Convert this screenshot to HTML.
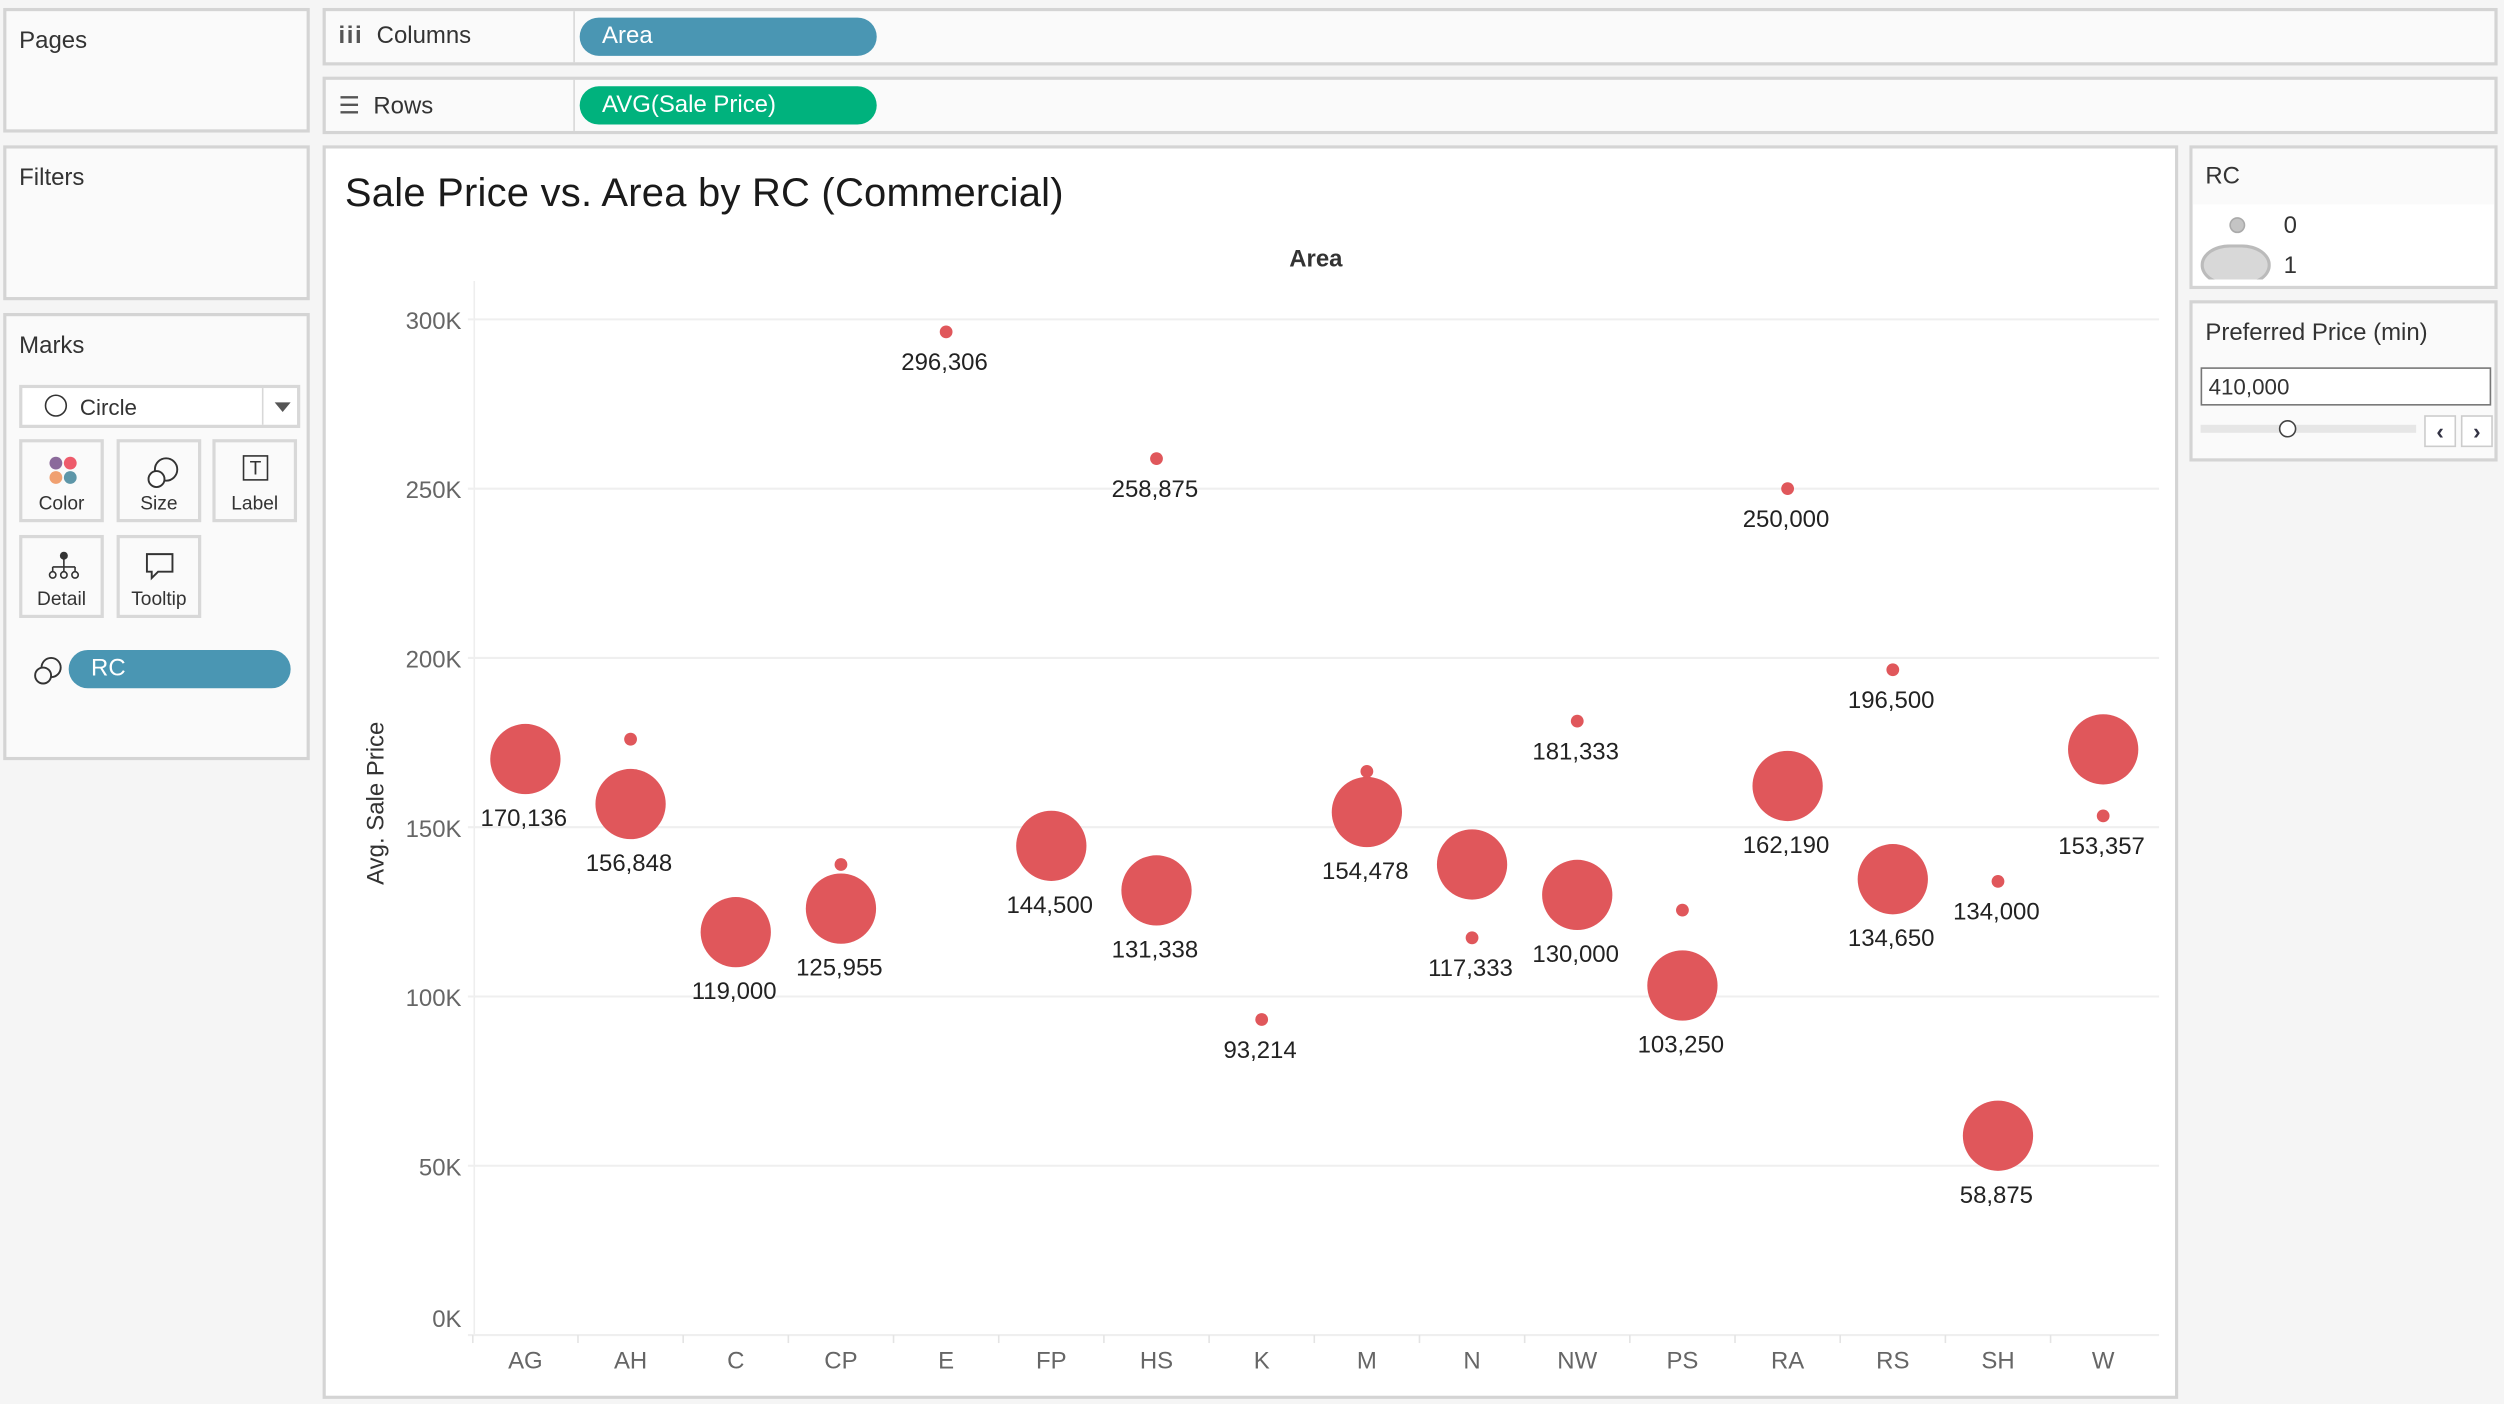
<!DOCTYPE html>
<html><head><meta charset="utf-8"><style>
html,body{margin:0;padding:0;width:2504px;height:1404px;overflow:hidden;background:#f5f5f5;font-family:"Liberation Sans",sans-serif;}
#root{position:absolute;left:0;top:0;width:1568px;height:879px;transform:scale(1.59694);transform-origin:0 0;}
.panel{position:absolute;background:#fafafa;border:2px solid #d4d4d4;box-sizing:border-box;}
.ttl{position:absolute;left:8px;font-size:15px;color:#333;}
.pill{position:absolute;border-radius:12px;color:#fff;font-size:15px;line-height:24px;padding-left:14px;box-sizing:border-box;}
.btn{position:absolute;width:53px;height:52px;border:2px solid #d8d8d8;box-sizing:border-box;background:#fafafa;font-size:12px;color:#333;text-align:center;}
.btn span{position:absolute;left:0;right:0;bottom:3px;}
</style></head><body>
<div id="root">
<div class="panel" style="left:2px;top:5px;width:192px;height:78px"><div class="ttl" style="top:10px">Pages</div></div>
<div class="panel" style="left:2px;top:91px;width:192px;height:97px"><div class="ttl" style="top:10px">Filters</div></div>
<div class="panel" style="left:2px;top:196px;width:192px;height:280px">
 <div class="ttl" style="top:10px">Marks</div>
 <div style="position:absolute;left:8px;top:43px;width:176px;height:27px;border:2px solid #d8d8d8;box-sizing:border-box;background:#fff;font-size:14px;color:#333">
  <div style="position:absolute;left:14px;top:4px;width:12px;height:12px;border:1.5px solid #333;border-radius:50%"></div>
  <div style="position:absolute;left:36px;top:4px">Circle</div>
  <div style="position:absolute;left:150px;top:0;width:1px;height:23px;background:#d8d8d8"></div>
  <div style="position:absolute;left:158px;top:9px;border-left:5px solid transparent;border-right:5px solid transparent;border-top:6px solid #555"></div>
 </div>
 <div class="btn" style="left:8px;top:77px">
  <svg width="20" height="20" style="position:absolute;left:16px;top:8px"><circle cx="5" cy="5" r="4" fill="#8b6a9b"/><circle cx="14" cy="5" r="4" fill="#ee5b6b"/><circle cx="5" cy="14" r="4" fill="#f0a070"/><circle cx="14" cy="14" r="4" fill="#5d96a8"/></svg><span>Color</span></div>
 <div class="btn" style="left:69px;top:77px">
  <svg width="22" height="22" style="position:absolute;left:16px;top:8px"><circle cx="13" cy="9" r="7" fill="none" stroke="#333" stroke-width="1.2"/><circle cx="7" cy="15" r="5" fill="#fff" stroke="#333" stroke-width="1.2"/></svg><span>Size</span></div>
 <div class="btn" style="left:129px;top:77px">
  <div style="position:absolute;left:17px;top:8px;width:14px;height:14px;border:1.3px solid #333;font-size:12px;line-height:14px">T</div><span>Label</span></div>
 <div class="btn" style="left:8px;top:137px">
  <svg width="22" height="20" style="position:absolute;left:15px;top:7px"><circle cx="11" cy="4" r="2.5" fill="#333"/><path d="M11 6v5M4 11h14M4 11v3M11 11v3M18 11v3" stroke="#333" fill="none"/><circle cx="4" cy="16" r="2" fill="none" stroke="#333"/><circle cx="11" cy="16" r="2" fill="none" stroke="#333"/><circle cx="18" cy="16" r="2" fill="none" stroke="#333"/></svg><span>Detail</span></div>
 <div class="btn" style="left:69px;top:137px">
  <svg width="22" height="20" style="position:absolute;left:15px;top:8px"><path d="M2 2h16v11h-9l-4 4v-4h-3z" fill="none" stroke="#333" stroke-width="1.2"/></svg><span>Tooltip</span></div>
 <svg width="22" height="22" style="position:absolute;left:15px;top:211px"><circle cx="13" cy="9" r="6" fill="none" stroke="#333" stroke-width="1.2"/><circle cx="8" cy="14" r="5" fill="#fafafa" stroke="#333" stroke-width="1.2"/></svg>
 <div class="pill" style="left:39px;top:209px;width:139px;background:#4a96b3">RC</div>
</div>
<div class="panel" style="left:202px;top:5px;width:1362px;height:36px">
 <div style="position:absolute;left:8px;top:7px;font-size:15px;color:#333"><b style="letter-spacing:1px;color:#555">iii</b>&nbsp; Columns</div>
 <div style="position:absolute;left:155px;top:0;width:1px;height:32px;background:#d8d8d8"></div>
 <div class="pill" style="left:159px;top:4px;width:186px;background:#4a96b3">Area</div>
</div>
<div class="panel" style="left:202px;top:48px;width:1362px;height:36px">
 <div style="position:absolute;left:8px;top:7px;font-size:15px;color:#333"><span style="color:#555">☰</span>&nbsp; Rows</div>
 <div style="position:absolute;left:155px;top:0;width:1px;height:32px;background:#d8d8d8"></div>
 <div class="pill" style="left:159px;top:4px;width:186px;background:#00b27d">AVG(Sale Price)</div>
</div>
<div class="panel" style="left:202px;top:91px;width:1162px;height:785px;background:#fff">
<svg id="chart" width="1162" height="785" style="position:absolute;left:-2px;top:-2px;font-family:'Liberation Sans',sans-serif"></svg>
</div>
<div class="panel" style="left:1371px;top:91px;width:193px;height:90px;background:#fff">
 <div style="position:absolute;left:0;top:0;right:0;height:35px;background:#fafafa"></div>
 <div class="ttl" style="top:9px">RC</div>
 <div style="position:absolute;left:23px;top:43px;width:8px;height:8px;border-radius:50%;background:#c4c4c4;border:1.5px solid #aaa"></div>
 <div style="position:absolute;left:57px;top:40px;font-size:15px;color:#333">0</div>
 <div style="position:absolute;left:5px;top:60px;width:44px;height:26px;border-radius:50%/60%;background:#d8d8d8;border:2px solid #bbb;box-sizing:border-box;clip-path:inset(0 0 4px 0)"></div>
 <div style="position:absolute;left:57px;top:65px;font-size:15px;color:#333">1</div>
</div>
<div class="panel" style="left:1371px;top:188px;width:193px;height:101px">
 <div class="ttl" style="top:10px">Preferred Price (min)</div>
 <div style="position:absolute;left:5px;top:40px;width:182px;height:24px;border:1px solid #777;background:#fff;box-sizing:border-box;font-size:14px;color:#333;padding:3px 4px">410,000</div>
 <div style="position:absolute;left:5px;top:76px;width:135px;height:5px;background:#e6e6e6"></div>
 <div style="position:absolute;left:54px;top:73px;width:9px;height:9px;border:1.3px solid #444;border-radius:50%;background:#fff"></div>
 <div style="position:absolute;left:145px;top:70px;width:18px;height:18px;border:1px solid #ccc;background:#fff;font-size:14px;line-height:18px;text-align:center;color:#334;font-weight:bold">&lsaquo;</div>
 <div style="position:absolute;left:168px;top:70px;width:18px;height:18px;border:1px solid #ccc;background:#fff;font-size:14px;line-height:18px;text-align:center;color:#334;font-weight:bold">&rsaquo;</div>
</div>
</div>
<script>
const categories=["AG","AH","C","CP","E","FP","HS","K","M","N","NW","PS","RA","RS","SH","W"];
const rc0Values=[null,176000,null,139000,296306,null,258875,93214,166500,117333,181333,125500,250000,196500,134000,153357];
const rc1Values=[170136,156848,119000,125955,null,144500,131338,null,154478,139000,130000,103250,162190,134650,58875,173000];
const rc0Labels=[null,null,null,null,"296,306",null,"258,875","93,214",null,"117,333","181,333",null,"250,000","196,500","134,000","153,357"];
const rc1Labels=["170,136","156,848","119,000","125,955",null,"144,500","131,338",null,"154,478",null,"130,000","103,250","162,190","134,650","58,875",null];
const yTicks=[0,50000,100000,150000,200000,250000,300000];
const yTickLabels=["0K","50K","100K","150K","200K","250K","300K"];

const svg=document.getElementById('chart');const NS='http://www.w3.org/2000/svg';
const OX=202,OY=91;
const plotL=297-OX,plotR=1352-OX,plotB=836-OY;
function y(v){return plotB - v*106/50000;}
function x(i){return (329-OX)+i*(1317-329)/15;}
function mk(t,a,txt){const e=document.createElementNS(NS,t);for(const k in a)e.setAttribute(k,a[k]);if(txt!=null)e.textContent=txt;svg.appendChild(e);return e;}
let e;
e=mk('text',{x:14,y:38,'font-size':25,fill:'#1a1a1a',textLength:450},'Sale Price vs. Area by RC (Commercial)');


e=mk('text',{x:622,y:76,'font-size':15,fill:'#333','text-anchor':'middle','font-weight':'bold'},'Area');


e=mk('text',{x:0,y:0,'font-size':15,fill:'#333','text-anchor':'middle',transform:'translate(38,'+(y(150000)-15)+') rotate(-90)'},'Avg. Sale Price');


e=mk('line',{x1:plotL,y1:85,x2:plotL,y2:plotB,stroke:'#eee'});


yTicks.forEach((t,i)=>{
 const g=mk('line',{x1:plotL-4,y1:y(t),x2:plotR,y2:y(t),stroke:'#efefef','stroke-width':1.3});
 
 
 const ly=(t===0)?y(t)-5:y(t)+6;
 const l=mk('text',{x:plotL-8,y:ly,'font-size':15,fill:'#666','text-anchor':'end'},yTickLabels[i]);
 
 
});
const step=(1317-329)/15;
categories.forEach((c,i)=>{
 const tk=mk('line',{x1:x(i)-step/2,y1:plotB,x2:x(i)-step/2,y2:plotB+5,stroke:'#e4e4e4'});
 
 
 const l=mk('text',{x:x(i),y:plotB+21,'font-size':15,fill:'#666','text-anchor':'middle'},c);
 
 
});
function drawSeries(vals,labels,r,name){
 vals.forEach((v,i)=>{
  if(v==null)return;
  const c=mk('circle',{cx:x(i),cy:y(v),r:r,fill:'#e0575b'});
  
  
  if(labels[i]){
   const t=mk('text',{x:x(i)-1,y:y(v)+r+20,'font-size':15,fill:'#222','text-anchor':'middle'},labels[i]);
   
   
  }
 });
}
drawSeries(rc1Values,rc1Labels,22,'rc1-circle');
drawSeries(rc0Values,rc0Labels,4,'rc0-dot');
</script>
</body></html>
